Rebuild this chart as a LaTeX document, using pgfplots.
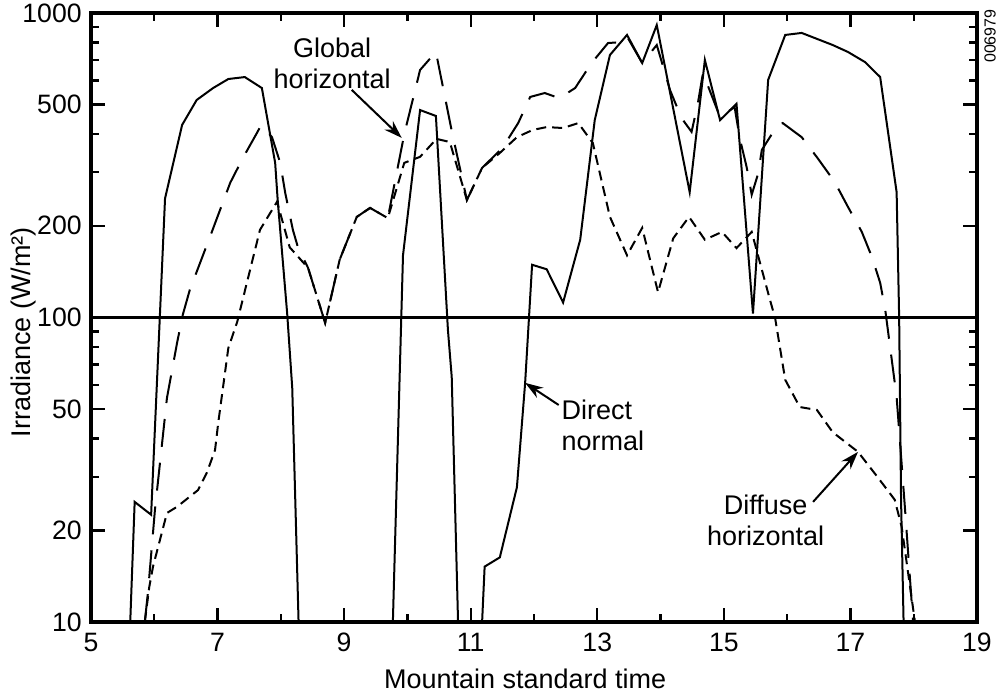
\documentclass[border=0pt]{standalone}
\usepackage{fontspec}
\setmainfont{Liberation Sans}
\usepackage{pgfplots}
\pgfplotsset{compat=1.18}
\usetikzlibrary{arrows.meta}
\begin{document}
\fontsize{13.5}{15.5}\selectfont
\begin{tikzpicture}
\begin{axis}[
  scale only axis, width=443pt, height=304.5pt,
  xmin=5, xmax=19, ymin=10, ymax=1000, ymode=log,
  clip mode=individual,
  axis line style={line width=2pt},
  xtick={5,7,...,19}, minor xtick={6,8,...,18},
  ytick={10,20,50,100,200,500,1000},
  yticklabels={10,20,50,100,200,500,1000},
  minor ytick={30,40,60,70,80,90,300,400,600,700,800,900},
  tick align=inside,
  major tick length=7pt, minor tick length=4pt,
  every tick/.style={black, line width=1.2pt},
  every minor tick/.style={black, line width=1.2pt},
  /pgf/number format/assume math mode=true,
  tick label style={font=\fontsize{13.3}{15}\selectfont},
  xticklabel style={yshift=-1pt},
  label style={font=\fontsize{13.5}{15}\selectfont},
  xlabel={Mountain standard time},
  ylabel={Irradiance (W/m²)},
  xlabel style={at={(axis description cs:0.49,-0.0936)}, anchor=center},
  ylabel style={at={(axis description cs:-0.0767,0.476)}, anchor=center},
]
% horizontal line at 100
\addplot[line width=1.5pt] coordinates {(5,100) (19,100)};
% Direct normal
\addplot[line width=1pt, solid] coordinates {
(5.62,10) (5.69,24.8) (5.95,22.5) (6.17,246) (6.44,429) (6.67,518) (6.93,567) (7.17,607) (7.43,616) (7.70,567) (7.91,322) (7.95,243) (8.10,103) (8.18,58.7) (8.28,10)
};
\addplot[line width=1pt, solid] coordinates {
(9.77,10) (9.93,160) (10.2,480) (10.45,459) (10.64,91) (10.70,63.8) (10.80,10)
};
\addplot[line width=1pt, solid] coordinates {
(11.18,10) (11.22,15.2) (11.46,16.3) (11.73,27.7) (11.86,61) (11.97,149) (12.2,144) (12.46,112) (12.73,180) (12.96,445) (13.2,728) (13.47,847) (13.71,685) (13.94,913) (14.46,258) (14.70,701) (14.94,445) (15.2,503) (15.46,103) (15.70,603) (15.97,847) (16.23,860) (16.72,785) (16.96,745) (17.23,690) (17.47,616) (17.73,258) (17.77,100) (17.80,25.2) (17.84,10)
};
% Global horizontal
\addplot[line width=1pt, dash pattern=on 14pt off 8pt] coordinates {
(5.85,10) (5.90,12.5) (6.01,23.3) (6.20,54.4) (6.36,82.5) (6.45,102) (6.56,123) (6.88,184) (7.20,277) (7.40,334) (7.62,403) (7.69,429) (7.86,391) (7.99,322) (8.07,256) (8.19,194) (8.27,170) (8.43,145.5) (8.70,96) (8.93,155) (9.20,214) (9.41,229) (9.69,212) (9.95,400) (10.2,650) (10.45,745) (10.7,410) (10.94,243) (11.18,310) (11.5,360) (11.75,435) (11.94,530) (12.17,546) (12.4,525) (12.65,567) (12.91,685) (13.17,797) (13.41,803) (13.47,837) (13.71,685) (13.94,785) (14.15,558) (14.33,452) (14.49,407) (14.59,506) (14.67,635) (14.94,455) (15.17,491) (15.25,389) (15.36,312) (15.44,253) (15.54,296) (15.6,355) (15.85,429) (15.93,435) (16.23,391) (16.48,334) (16.75,279) (16.96,231) (17.18,191) (17.34,158) (17.47,130) (17.55,106) (17.73,54.8) (17.86,23.9) (17.99,10)
};
% Diffuse horizontal
\addplot[line width=1pt, dash pattern=on 5pt off 3pt] coordinates {
(5.85,10) (5.92,13) (5.98,15.2) (6.20,22.8) (6.36,23.9) (6.69,27.1) (6.83,30.9) (6.96,36.7) (7.01,45) (7.17,79.4) (7.31,96.7) (7.67,194) (7.94,240) (8.14,170) (8.43,145.5) (8.70,96) (8.93,155) (9.20,214) (9.41,229) (9.69,212) (9.95,322) (10.2,337) (10.46,386) (10.67,377) (10.94,243) (11.18,310) (11.46,347) (11.73,391) (11.98,413) (12.2,422) (12.46,419) (12.70,435) (12.93,374) (13.2,214) (13.47,160) (13.71,197) (13.96,121) (14.2,182) (14.45,214) (14.70,180) (14.97,191) (15.2,169) (15.44,191) (15.73,114) (15.81,99.6) (15.97,62.4) (16.2,50.8) (16.47,49.7) (16.72,42) (17.12,36.2) (17.43,29.9) (17.70,25.2) (17.81,20.5) (18.02,10)
};
% annotations
\node[align=center, font=\fontsize{13.5}{15.5}\selectfont] at (axis cs:8.81,685) {Global\\horizontal};
\draw[line width=1pt, -{Stealth[length=9pt,width=6pt]}] (axis cs:9.12,559) -- (axis cs:9.91,389);
\node[align=left, font=\fontsize{13.5}{15.5}\selectfont] at (axis cs:13.09,44.4) {Direct\\normal};
\draw[line width=1pt, -{Stealth[length=9pt,width=6pt]}] (axis cs:12.39,51.6) -- (axis cs:11.86,61);
\node[align=center, font=\fontsize{13.5}{15.5}\selectfont] at (axis cs:15.66,21.5) {Diffuse\\horizontal};
\draw[line width=1pt, -{Stealth[length=9pt,width=6pt]}] (axis cs:16.41,24.8) -- (axis cs:17.12,36.2);
\node[rotate=90, font=\fontsize{8}{9}\selectfont] at (rel axis cs:1.0147,0.962) {006979};
\end{axis}
\pgfresetboundingbox
\path[use as bounding box] (-45.5pt,-36pt) rectangle (453pt,311pt);
\end{tikzpicture}
\end{document}
